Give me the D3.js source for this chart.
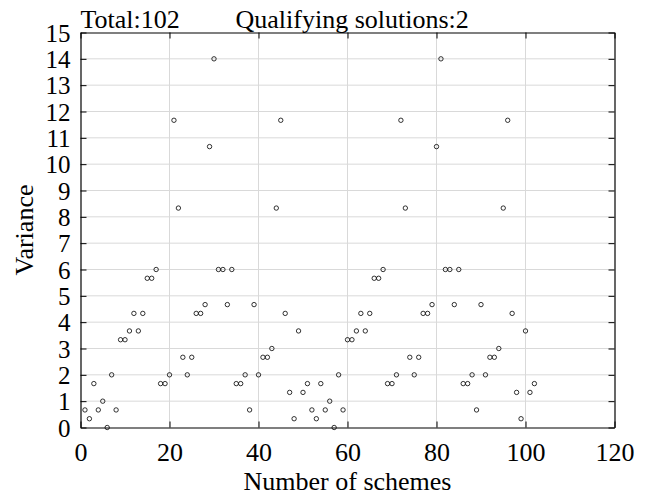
<!DOCTYPE html>
<html>
	<head>
		<title>Variance of schemes</title>
		<meta charset="UTF-8">
		<style type="text/css">
			body { margin: 0; background: #fff; }
			svg text { font-family: 'Liberation Serif', 'Times New Roman', serif; fill: #000; }
		</style>
		<script src="https://d3js.org/d3.v7.min.js"></script>
	</head>

	<body>
		<script type="text/javascript">

			// scheme numbers 1..102 and the variance read for each one
			var schemes = d3.range(1, 103);
			var variance = [
				0.667, 0.333, 1.667, 0.667, 1, 0, 2, 0.667, 3.333, 3.333,
				3.667, 4.333, 3.667, 4.333, 5.667, 5.667, 6, 1.667, 1.667, 2,
				11.667, 8.333, 2.667, 2, 2.667, 4.333, 4.333, 4.667, 10.667, 14,
				6, 6, 4.667, 6, 1.667, 1.667, 2, 0.667, 4.667, 2,
				2.667, 2.667, 3, 8.333, 11.667, 4.333, 1.333, 0.333, 3.667, 1.333,
				1.667, 0.667, 0.333, 1.667, 0.667, 1, 0, 2, 0.667, 3.333,
				3.333, 3.667, 4.333, 3.667, 4.333, 5.667, 5.667, 6, 1.667, 1.667,
				2, 11.667, 8.333, 2.667, 2, 2.667, 4.333, 4.333, 4.667, 10.667,
				14, 6, 6, 4.667, 6, 1.667, 1.667, 2, 0.667, 4.667,
				2, 2.667, 2.667, 3, 8.333, 11.667, 4.333, 1.333, 0.333, 3.667,
				1.333, 1.667
			];
			var xTicks = [0, 20, 40, 60, 80, 100, 120];
			var yTicks = d3.range(0, 16);
			var titleLeft = "Total:102";
			var titleRight = "Qualifying solutions:2";

			var data = schemes.map(function(s, i) { return {n: s, v: variance[i]}; });

			var margin = {top: 32.5, right: 34.5, bottom: 67.5, left: 80.5},
				width = 649 - margin.left - margin.right,
				height = 495 - margin.top - margin.bottom;

			var x = d3.scaleLinear().domain([0, 120]).range([0, width]);
			var y = d3.scaleLinear().domain([0, 15]).range([height, 0]);

			var svg = d3.select("body")
			.append("svg")
				.attr("width", 649)
				.attr("height", 495)
			.append("g")
				.attr("transform", "translate(" + margin.left + "," + margin.top + ")");

			// grid
			svg.append("g")
				.selectAll("line.gx")
				.data(xTicks.slice(1, -1))
				.enter().append("line")
					.attr("x1", function(d) { return x(d); })
					.attr("x2", function(d) { return x(d); })
					.attr("y1", 0).attr("y2", height)
					.attr("stroke", "#d9d9d9").attr("stroke-width", 1);

			svg.append("g")
				.selectAll("line.gy")
				.data(yTicks.slice(1, -1))
				.enter().append("line")
					.attr("y1", function(d) { return y(d); })
					.attr("y2", function(d) { return y(d); })
					.attr("x1", 0).attr("x2", width)
					.attr("stroke", "#d9d9d9").attr("stroke-width", 1);

			// axes, ticks pointing inward on all four sides
			var xAxis = d3.axisBottom(x).tickValues(xTicks).tickSizeInner(-6).tickSizeOuter(0).tickPadding(15);
			var yAxis = d3.axisLeft(y).tickValues(yTicks).tickSizeInner(-6).tickSizeOuter(0).tickPadding(10);

			var gx = svg.append("g")
				.attr("transform", "translate(0," + height + ")")
				.call(xAxis);
			var gy = svg.append("g").call(yAxis);

			svg.append("g")
				.call(d3.axisTop(x).tickValues(xTicks).tickSizeInner(-6).tickSizeOuter(0).tickFormat(""));
			svg.append("g")
				.attr("transform", "translate(" + width + ",0)")
				.call(d3.axisRight(y).tickValues(yTicks).tickSizeInner(-6).tickSizeOuter(0).tickFormat(""));

			svg.selectAll(".domain").attr("stroke", "#000").attr("stroke-width", 1.2);
			svg.selectAll(".tick line").attr("stroke", "#000").attr("stroke-width", 1);

			gx.attr("font-family", null).attr("font-size", 26);
			gy.attr("font-family", null).attr("font-size", 25);
			gy.selectAll("text").attr("dy", "0.34em");

			// points
			svg.append("g")
				.selectAll("circle")
				.data(data)
				.enter().append("circle")
					.attr("cx", function(d) { return x(d.n); })
					.attr("cy", function(d) { return y(d.v); })
					.attr("r", 2.2)
					.attr("fill", "none")
					.attr("stroke", "#000")
					.attr("stroke-width", 0.8);

			// titles and labels
			svg.append("text")
				.attr("x", 0).attr("y", -5)
				.attr("font-size", 26)
				.text(titleLeft);
			svg.append("text")
				.attr("x", 155).attr("y", -5)
				.attr("font-size", 26)
				.text(titleRight);

			svg.append("text")
				.attr("x", width / 2).attr("y", height + 62)
				.attr("text-anchor", "middle")
				.attr("font-size", 26)
				.text("Number of schemes");

			svg.append("text")
				.attr("transform", "translate(" + (33 - margin.left) + "," + (height / 2) + ") rotate(-90)")
				.attr("text-anchor", "middle")
				.attr("font-size", 26)
				.text("Variance");

		</script>
	</body>
</html>
